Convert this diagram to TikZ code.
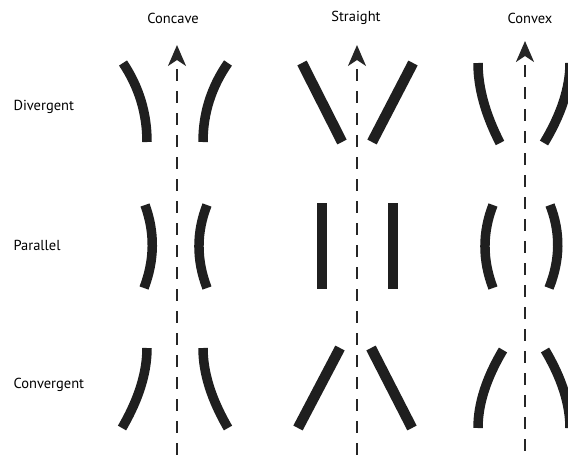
\documentclass[tikz,border=0pt]{standalone}
\usepackage{fontspec}
\setmainfont{PT Sans}
\usetikzlibrary{arrows.meta,positioning}

\begin{document}
\begin{tikzpicture}[x=1pt,y=-1pt,
	lane/.style={line width=9.5pt,color=black!88},
	bar/.style={line width=10.5pt,color=black!88},
	axis/.style={line width=2.2pt,color=black!85,dash pattern=on 12pt off 10pt,dash phase=12pt,
		{Stealth[length=21pt,width=18pt,inset=6pt]}-},
	title/.style={font=\fontsize{14.5}{17}\selectfont},
	row/.style={font=\fontsize{14.5}{17}\selectfont,anchor=west}]

	\useasboundingbox (0,0) rectangle (568,459);
	\clip (0,0) rectangle (568,459);

	% column and row labels
	\node[title] (concave) at (173,18) {Concave};
	\node[title] (straight) at (356,18) {Straight};
	\node[title] (convex) at (530,18) {Convex};
	\node[row] (divergent) at (10,107) {Divergent};
	\node[row] (parallel) at (10,245) {Parallel};
	\node[row] (convergent) at (10,385) {Convergent};

	% axes
	\coordinate (concave top) at (177,45);
	\coordinate (concave bot) at (177,462);
	\coordinate (straight top) at (357,45);
	\coordinate (straight bot) at (357,462);
	\coordinate (convex top) at (525,41);
	\coordinate (convex bot) at (525,462);
	\draw[axis] (concave top) -- (concave bot);
	\draw[axis] (straight top) -- (straight bot);
	\draw[axis] (convex top) -- (convex bot);

	% concave
	\draw[lane] (147,142) .. controls (147,113.3) and (139,87) .. (123,63);
	\draw[lane] (203,142) .. controls (203,113.3) and (211.3,87) .. (228,63);
	\draw[lane] (145,205) .. controls (155,232.3) and (154.7,260) .. (144,288);
	\draw[lane] (207,205) .. controls (196.3,232.3) and (196.3,260) .. (207,288);
	\draw[lane] (147,348) .. controls (147,372.7) and (138.7,399.3) .. (122,428);
	\draw[lane] (203,348) .. controls (203,372.7) and (211.3,399.3) .. (228,428);

	% straight
	\draw[bar] (302,63) -- (342,142);
	\draw[bar] (413,63) -- (372,142);
	\draw[bar] (322,203) -- (322,289);
	\draw[bar] (393,203) -- (393,289);
	\draw[bar] (340,348) -- (298,428);
	\draw[bar] (371,348) -- (412,428);

	% convex
	\draw[lane] (478,63) .. controls (478,87.7) and (485.3,114.3) .. (500,143);
	\draw[lane] (570,63) .. controls (570,87.7) and (561.3,114.3) .. (544,143);
	\draw[lane] (493,205) .. controls (482.3,232.3) and (482.3,260) .. (493,288);
	\draw[lane] (550,205) .. controls (560.7,232.3) and (560.3,260) .. (549,288);
	\draw[lane] (503,350) .. controls (486.3,378) and (478,404) .. (478,428);
	\draw[lane] (545,350) .. controls (561.7,378) and (570,404) .. (570,428);

\end{tikzpicture}
\end{document}
